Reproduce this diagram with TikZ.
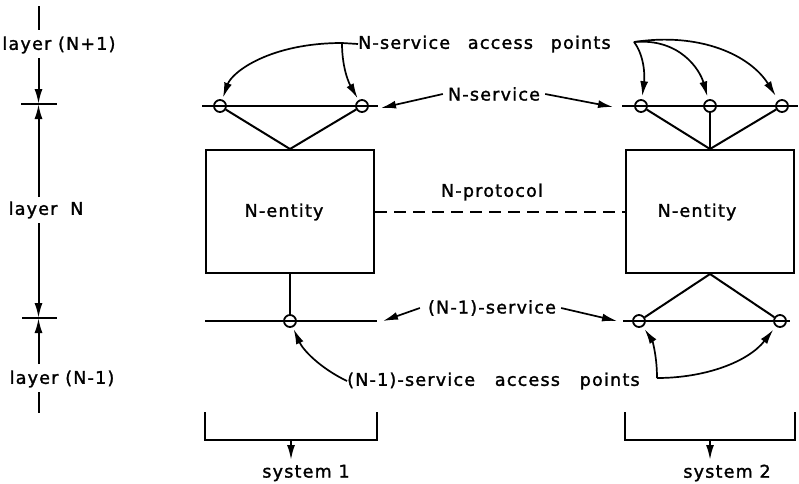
\documentclass[tikz,border=0pt]{standalone}
\usepackage{fontspec}
\setmainfont{DejaVu Sans}[LetterSpace=7,FakeBold=1.6]
\usetikzlibrary{arrows.meta}
\begin{document}
\begin{tikzpicture}[x=1pt,y=-1pt,
  lbl/.style={font=\fontsize{17.5}{20}\selectfont, inner sep=0pt},
  ln/.style={line width=2pt},
  cn/.style={line width=1.7pt},
  sap/.style={circle, draw, line width=1.8pt, minimum size=12pt, inner sep=0pt},
  ent/.style={draw, line width=2pt, minimum width=168pt, minimum height=123pt, inner sep=0pt},
  arrowtip/.style={-{Latex[length=15pt,width=8pt]}},
]
\useasboundingbox (0,0) rectangle (799,483);
% ---------- layer scale ----------
\coordinate (s0) at (38.5,6);
\coordinate (s1) at (38.5,30);
\coordinate (s2) at (38.5,58);
\coordinate (t1) at (38.5,104);
\coordinate (s3) at (38.5,197);
\coordinate (s4) at (38.5,223);
\coordinate (t2) at (38.5,318);
\coordinate (s5) at (38.5,364);
\coordinate (s6) at (38.5,392);
\coordinate (s7) at (38.5,413);
\node[lbl] (lN1) at (59,45) {layer (N+1)};
\node[lbl] (lN) at (46,210) {layer\hspace{6pt} N};
\node[lbl] (lNm1) at (62,379) {layer (N-1)};
\draw[ln] (s0) -- (s1);
\draw[ln,arrowtip] (s2) -- (t1);
\draw[ln,arrowtip] (s3) -- (t1);
\draw[ln,arrowtip] (s4) -- (t2);
\draw[ln,arrowtip] (s5) -- (t2);
\draw[ln] (s6) -- (s7);
\draw[ln] ([xshift=-17.5pt]t1) -- ([xshift=18.5pt]t1);
\draw[ln] ([xshift=-16.5pt]t2) -- ([xshift=18.5pt]t2);
% ---------- entities ----------
\node[ent] (eL) at (290,211.5) {};
\node[ent] (eR) at (710,211.5) {};
\node[lbl] (txL) at (284,212) {N-entity};
\node[lbl] (txR) at (697,212) {N-entity};
\draw[ln, dash pattern=on 12pt off 7pt] (eL.east) -- (eR.west);
\node[lbl] (prot) at (492,192) {N-protocol};
% ---------- service lines ----------
\coordinate (nL0) at (202,106); \coordinate (nL1) at (378,106);
\coordinate (nR0) at (622,106); \coordinate (nR1) at (798,106);
\coordinate (mL0) at (205,321); \coordinate (mL1) at (377,321);
\coordinate (mR0) at (623,321); \coordinate (mR1) at (790,321);
\draw[ln] (nL0) -- (nL1);
\draw[ln] (nR0) -- (nR1);
\draw[ln] (mL0) -- (mL1);
\draw[ln] (mR0) -- (mR1);
\node[sap] (a1) at (220,106) {};
\node[sap] (a2) at (362,106) {};
\node[sap] (b1) at (641,106) {};
\node[sap] (b2) at (710,106) {};
\node[sap] (b3) at (782,106) {};
\node[sap] (c1) at (290,321) {};
\node[sap] (d1) at (639,321) {};
\node[sap] (d2) at (780,321) {};
\draw[ln] (a1) -- (eL.north) -- (a2);
\draw[ln] (b1) -- (eR.north) -- (b3);
\draw[ln] (eR.north) -- (b2);
\draw[ln] (eL.south) -- (c1);
\draw[ln] (d1) -- (eR.south) -- (d2);
% ---------- service labels ----------
\node[lbl] (ns) at (494,94) {N-service};
\coordinate (nsl) at (381,108);
\coordinate (nsr) at (613,107);
\draw[cn,arrowtip] ([xshift=-5pt]ns.west) -- (nsl);
\draw[cn,arrowtip] ([xshift=5pt]ns.east) -- (nsr);
\node[lbl] (ns1) at (492,308) {(N-1)-service};
\coordinate (ms1) at (383,321);
\coordinate (ms2) at (617,321);
\draw[cn,arrowtip] ([xshift=-8pt]ns1.west) -- (ms1);
\draw[cn,arrowtip] ([xshift=5pt]ns1.east) -- (ms2);
% ---------- access point labels ----------
\node[lbl, anchor=west] (sapT) at (358,44) {N-service\hspace{11pt} access\hspace{11pt} points};
\coordinate (jT) at (342,43);
\coordinate (jR) at (634,42);
\draw[cn,arrowtip,shorten >=2pt] (sapT.west) -- (jT) .. controls (270,43) and (232,72) .. (a1);
\draw[cn,arrowtip,shorten >=2pt] (jT) .. controls (342,70) and (350,85) .. (a2);
\draw[cn,arrowtip,shorten >=3pt] (jR) .. controls (644,55) and (645,75) .. (b1);
\draw[cn,arrowtip,shorten >=3pt] (jR) .. controls (680,38) and (700,70) .. (b2);
\draw[cn,arrowtip,shorten >=5pt] (jR) .. controls (700,32) and (750,55) .. (b3);
\node[lbl, anchor=west] (sapB) at (347,381) {(N-1)-service\hspace{13pt} access\hspace{13pt} points};
\coordinate (jB) at (657,378);
\draw[cn,arrowtip,shorten >=2pt] (sapB.west) .. controls (320,368) and (303,350) .. (c1);
\draw[cn,arrowtip,shorten >=3pt] (jB) .. controls (657,355) and (652,340) .. (d1);
\draw[cn,arrowtip,shorten >=4pt] (jB) .. controls (705,378) and (748,362) .. (d2);
% ---------- systems ----------
\coordinate (k1) at (205,412); \coordinate (k2) at (377,412);
\coordinate (k3) at (625,412); \coordinate (k4) at (795,412);
\draw[ln] (k1) |- (k2 |- 0,440) -- (k2);
\draw[ln] (k3) |- (k4 |- 0,440) -- (k4);
\coordinate (sy1) at (291,440); \coordinate (sy1e) at (291,460);
\coordinate (sy2) at (710,440); \coordinate (sy2e) at (710,460);
\draw[ln,arrowtip] (sy1) -- (sy1e);
\draw[ln,arrowtip] (sy2) -- (sy2e);
\node[lbl] (sys1) at (306,473) {system 1};
\node[lbl] (sys2) at (727,473) {system 2};
\end{tikzpicture}
\end{document}
